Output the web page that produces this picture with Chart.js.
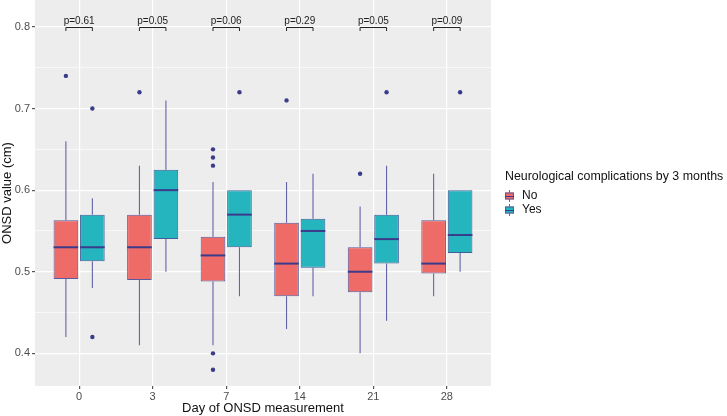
<!DOCTYPE html>
<html>
<head>
<meta charset="utf-8">
<script src="https://cdn.jsdelivr.net/npm/chart.js@4.4.1/dist/chart.umd.min.js"></script>
<style>
  html, body { margin: 0; padding: 0; background: #fff; }
  #wrap { width: 727px; height: 416px; }
</style>
</head>
<body>
<div id="wrap"><canvas id="chart"></canvas></div>
<script>
// data
var days = ['0', '3', '7', '14', '21', '28'];
var pvals = ['p=0.61', 'p=0.05', 'p=0.06', 'p=0.29', 'p=0.05', 'p=0.09'];

// [whisker low, q1, median, q3, whisker high]
var boxNo = [
    [0.42, 0.491, 0.53, 0.563, 0.66],
    [0.41, 0.49, 0.53, 0.57, 0.63],
    [0.41, 0.488, 0.52, 0.543, 0.61],
    [0.43, 0.47, 0.51, 0.56, 0.61],
    [0.40, 0.475, 0.50, 0.53, 0.58],
    [0.47, 0.498, 0.51, 0.563, 0.62]
];
var boxYes = [
    [0.48, 0.513, 0.53, 0.57, 0.59],
    [0.50, 0.54, 0.60, 0.625, 0.71],
    [0.47, 0.53, 0.57, 0.60, 0.60],
    [0.47, 0.505, 0.55, 0.565, 0.62],
    [0.44, 0.51, 0.54, 0.57, 0.63],
    [0.50, 0.523, 0.545, 0.60, 0.60]
];
var outNo = [[0.74], [0.72], [0.65, 0.64, 0.63, 0.40, 0.38], [0.71], [0.62], []];
var outYes = [[0.70, 0.42], [], [0.72], [], [0.72], [0.72]];

var yTicks = [0.4, 0.45, 0.5, 0.55, 0.6, 0.65, 0.7, 0.75, 0.8];

var catPct = 0.72;
var dodge = catPct / 4;
var font = '"Liberation Sans", Arial, sans-serif';

function toBars(arr) {
    return arr.map(function (b, i) { return { x: i, y: [b[1], b[3]] }; });
}
function toPoints(arr, shift) {
    var pts = [];
    arr.forEach(function (list, i) {
        list.forEach(function (v) { pts.push({ x: i + shift, y: v }); });
    });
    return pts;
}

var boxes = [boxNo, boxYes];

var boxPlugin = {
    id: 'boxes',
    beforeDraw: function (chart) {
        var a = chart.chartArea, c = chart.ctx;
        c.save();
        c.fillStyle = '#EDEDED';
        c.fillRect(a.left, a.top, a.right - a.left, a.bottom - a.top);
        c.restore();
    },
    beforeDatasetsDraw: function (chart) {
        var c = chart.ctx, y = chart.scales.y;
        c.save();
        c.strokeStyle = '#6464A8';
        c.lineWidth = 1.1;
        [0, 1].forEach(function (d) {
            chart.getDatasetMeta(d).data.forEach(function (bar, i) {
                var b = boxes[d][i];
                c.beginPath();
                c.moveTo(bar.x, y.getPixelForValue(b[0]));
                c.lineTo(bar.x, y.getPixelForValue(b[1]));
                c.moveTo(bar.x, y.getPixelForValue(b[3]));
                c.lineTo(bar.x, y.getPixelForValue(b[4]));
                c.stroke();
            });
        });
        c.restore();
    },
    afterDatasetsDraw: function (chart) {
        var c = chart.ctx, y = chart.scales.y;
        c.save();
        c.strokeStyle = '#3B3B8C';
        c.lineWidth = 2;
        [0, 1].forEach(function (d) {
            chart.getDatasetMeta(d).data.forEach(function (bar, i) {
                var py = y.getPixelForValue(boxes[d][i][2]);
                c.beginPath();
                c.moveTo(bar.x - bar.width / 2, py);
                c.lineTo(bar.x + bar.width / 2, py);
                c.stroke();
            });
        });
        // p-value brackets
        c.strokeStyle = '#222';
        c.lineWidth = 1;
        c.fillStyle = '#222';
        c.font = '10px ' + font;
        c.textAlign = 'center';
        c.textBaseline = 'alphabetic';
        var by = Math.round(y.getPixelForValue(0.8)) + 0.5;
        var ty = y.getPixelForValue(0.795);
        pvals.forEach(function (p, i) {
            var x1 = chart.getDatasetMeta(0).data[i].x;
            var x2 = chart.getDatasetMeta(1).data[i].x;
            c.beginPath();
            c.moveTo(x1, ty);
            c.lineTo(x1, by);
            c.lineTo(x2, by);
            c.lineTo(x2, ty);
            c.stroke();
            c.fillText(p, (x1 + x2) / 2, by - 4);
        });
        c.restore();
    },
    afterDraw: function (chart) {
        var c = chart.ctx;
        var lx = 505;
        c.save();
        c.fillStyle = '#111';
        c.font = '12.4px ' + font;
        c.textBaseline = 'middle';
        c.textAlign = 'left';
        c.fillText('Neurological complications by 3 months', lx, 177);
        var keys = [['No', '#EE6B67', 196], ['Yes', '#25B5BE', 210]];
        keys.forEach(function (k) {
            var ky = k[2];
            c.strokeStyle = '#6464A8';
            c.lineWidth = 1;
            c.beginPath();
            c.moveTo(lx + 4.5, ky - 6);
            c.lineTo(lx + 4.5, ky + 6);
            c.stroke();
            c.fillStyle = k[1];
            c.fillRect(lx, ky - 3.5, 9, 7);
            c.strokeStyle = '#5A5A9E';
            c.strokeRect(lx + 0.5, ky - 3, 8, 6);
            c.strokeStyle = '#3B3B8C';
            c.beginPath();
            c.moveTo(lx, ky + 0.5);
            c.lineTo(lx + 9, ky + 0.5);
            c.stroke();
            c.fillStyle = '#111';
            c.font = '12px ' + font;
            c.fillText(k[0], lx + 17, ky);
        });
        c.restore();
    }
};

var ctx = document.getElementById('chart').getContext('2d');
var chart = new Chart(ctx, {
    type: 'bar',
    data: {
        datasets: [
            {
                label: 'No',
                data: toBars(boxNo),
                backgroundColor: '#EE6B67',
                borderColor: '#5A5A9E',
                borderWidth: 1,
                borderSkipped: false,
                categoryPercentage: catPct,
                barPercentage: 0.93
            },
            {
                label: 'Yes',
                data: toBars(boxYes),
                backgroundColor: '#25B5BE',
                borderColor: '#3F5E9A',
                borderWidth: 1,
                borderSkipped: false,
                categoryPercentage: catPct,
                barPercentage: 0.93
            },
            {
                type: 'scatter',
                label: 'outNo',
                data: toPoints(outNo, -dodge),
                backgroundColor: '#3B3B8C',
                borderWidth: 0,
                pointRadius: 2.2
            },
            {
                type: 'scatter',
                label: 'outYes',
                data: toPoints(outYes, dodge),
                backgroundColor: '#3B3B8C',
                borderWidth: 0,
                pointRadius: 2.2
            }
        ]
    },
    options: {
        responsive: true,
        maintainAspectRatio: false,
        animation: false,
        layout: { autoPadding: false, padding: { left: 0, right: 236, top: 0, bottom: 0 } },
        plugins: {
            legend: { display: false },
            tooltip: { enabled: false }
        },
        scales: {
            x: {
                type: 'linear',
                min: -0.6,
                max: 5.6,
                offset: false,
                afterBuildTicks: function (s) {
                    s.ticks = days.map(function (d, i) { return { value: i }; });
                },
                afterFit: function (s) {
                    s.height = 30;
                    s.paddingLeft = 0;
                    s.paddingRight = 0;
                },
                ticks: {
                    autoSkip: false,
                    maxRotation: 0,
                    padding: 1,
                    color: '#4D4D4D',
                    font: { family: font, size: 11 },
                    callback: function (v) { return days[v]; }
                },
                grid: { color: '#FFFFFF', lineWidth: 1.2, offset: false, tickLength: 3, tickColor: '#555' },
                border: { display: false },
                title: {
                    display: true,
                    text: 'Day of ONSD measurement',
                    color: '#111',
                    padding: 0,
                    font: { family: font, size: 13 }
                }
            },
            y: {
                min: 0.36,
                max: 0.833,
                afterBuildTicks: function (s) {
                    s.ticks = yTicks.map(function (v) { return { value: v }; });
                },
                afterFit: function (s) {
                    s.width = 35;
                    s.paddingTop = 0;
                    s.paddingBottom = 0;
                },
                ticks: {
                    padding: 2,
                    color: '#4D4D4D',
                    font: { family: font, size: 11 },
                    callback: function (v) {
                        var k = Math.round(v * 100);
                        return k % 10 === 0 ? (k / 100).toFixed(1) : '';
                    }
                },
                grid: {
                    color: '#FFFFFF',
                    lineWidth: function (c) {
                        return Math.round(c.tick.value * 100) % 10 === 0 ? 1.2 : 0.6;
                    },
                    tickLength: 3,
                    tickColor: function (c) {
                        return Math.round(c.tick.value * 100) % 10 === 0 ? '#555' : 'rgba(0,0,0,0)';
                    }
                },
                border: { display: false },
                title: {
                    display: true,
                    text: 'ONSD value (cm)',
                    color: '#111',
                    padding: { top: 0, bottom: 2 },
                    font: { family: font, size: 13 }
                }
            }
        }
    },
    plugins: [boxPlugin]
});
</script>
</body>
</html>
